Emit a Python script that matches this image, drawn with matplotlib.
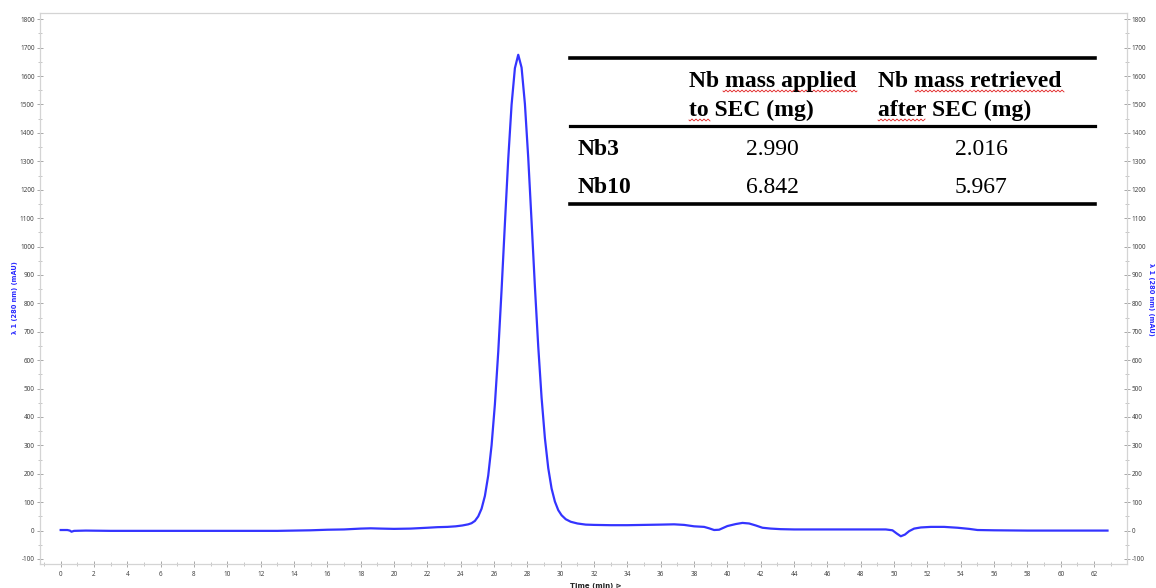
import numpy as np
import matplotlib.pyplot as plt
from matplotlib.lines import Line2D
from matplotlib.ticker import MultipleLocator

plt.rcParams['axes.unicode_minus'] = False

# ================== data ==================
time_min = [0.0, 0.4, 0.55, 0.65, 0.8, 1.5, 3, 5, 7, 9, 11, 13, 14, 15, 16, 17, 18,
            18.6, 19.2, 20, 21, 22, 22.6, 23.2, 23.7, 24.1, 24.45, 24.65, 24.85,
            25.05, 25.25, 25.45, 25.65, 25.85, 26.05, 26.25, 26.45, 26.65, 26.85,
            27.05, 27.25, 27.45, 27.65, 27.85, 28.05, 28.25, 28.45, 28.65, 28.85,
            29.05, 29.25, 29.45, 29.65, 29.85, 30.05, 30.3, 30.6, 31.0, 31.5, 32,
            33, 34, 35, 36, 36.8, 37.4, 38.0, 38.6, 38.9, 39.2, 39.5, 40.0, 40.5,
            40.9, 41.3, 41.7, 42.1, 42.6, 43.2, 44, 46, 48, 49.5, 49.9, 50.15, 50.4,
            50.65, 50.9, 51.2, 51.6, 52.2, 53, 53.8, 54.5, 55, 56, 58, 60, 62, 62.8]
abs_mau = [2, 2, 0, -4, -1, 0, -1, -1, -1, -1, -1, -1, 0, 1, 3, 4, 7,
           8, 7, 6, 7, 10, 12, 13, 15, 18, 22, 26, 34,
           50, 77, 122, 194, 300, 445, 629, 847, 1081, 1308,
           1499, 1628, 1675, 1630, 1502, 1312, 1088, 858, 648, 468,
           325, 220, 148, 102, 72, 54, 40, 31, 25, 21, 20,
           19, 19, 20, 21, 22, 20, 15, 13, 8, 2, 3, 16, 23,
           27, 25, 18, 10, 7, 5, 4, 4, 4, 4, 1, -10, -20,
           -14, -2, 7, 11, 13, 13, 10, 6, 2, 1, 0, 0, 0, 0]

col_headers = [["Nb mass applied", "to SEC (mg)"], ["Nb mass retrieved", "after SEC (mg)"]]
row_labels = ["Nb3", "Nb10"]
applied_mg = ["2.990", "6.842"]
retrieved_mg = ["2.016", "5.967"]

W, H = 1156, 588
def fx(x): return x / W
def fy(y): return 1 - y / H

# ================== figure ==================
fig = plt.figure(figsize=(W / 100, H / 100), dpi=100)
ax = fig.add_axes([fx(39.5), fy(564.3), (1127 - 39.5) / W, (564.3 - 13.3) / H])

ax.plot(time_min, abs_mau, color='#3434ff', lw=1.6, solid_joinstyle='round')
ax.set_xlim(-1.27, 63.97)
ax.set_ylim(-118.7, 1821)

ax2 = ax.twinx()
ax2.set_ylim(ax.get_ylim())

for a in (ax, ax2):
    for s in a.spines.values():
        s.set_color('#d4d4d4')
        s.set_linewidth(0.8)
    a.yaxis.set_major_locator(MultipleLocator(100))
    a.yaxis.set_minor_locator(MultipleLocator(50))
    a.tick_params(axis='both', which='major', direction='inout', length=4, width=0.6,
                  color='#9a9a9a', labelsize=4.6, labelcolor='#444444', pad=1.5)
    a.tick_params(axis='both', which='minor', direction='inout', length=3, width=0.5,
                  color='#b0b0b0')
    for lab in a.get_yticklabels():
        lab.set_family('Noto Sans')

ax.xaxis.set_major_locator(MultipleLocator(2))
ax.xaxis.set_minor_locator(MultipleLocator(1))
ax.tick_params(axis='x', which='major', pad=2.5)
for lab in ax.get_xticklabels():
    lab.set_family('Noto Sans')

# axis titles
ylab = "λ 1 (280 nm) (mAU)"
fig.text(fx(15), fy(298), ylab, rotation=90, ha='center', va='center',
         fontsize=4.8, fontweight='bold', color='#2a2aff')
fig.text(fx(1150.5), fy(299), ylab, rotation=-90, ha='center', va='center',
         fontsize=4.8, fontweight='bold', color='#2a2aff')
fig.text(fx(570), fy(586), "Time (min) ⊳", ha='left', va='center',
         fontsize=5, fontweight='bold', color='#222222')

# ================== table ==================
serif = 'Liberation Serif'
tx0, tx1 = 570, 1095
for yy, lw in [(57.5, 2.6), (126.5, 2.3), (204, 2.6)]:
    fig.add_artist(Line2D([fx(tx0), fx(tx1)], [fy(yy), fy(yy)], color='black', lw=lw))

header_left = [689, 878]
for xl, lines in zip(header_left, col_headers):
    for yb, t in zip([87, 116], lines):
        fig.text(fx(xl), fy(yb), t, family=serif, fontweight='bold', fontsize=17,
                 ha='left', va='baseline', color='black')

col_centers = [772, 981]
for yb, lab, v1, v2 in zip([155, 193], row_labels, applied_mg, retrieved_mg):
    fig.text(fx(578), fy(yb), lab, family=serif, fontweight='bold', fontsize=17,
             ha='left', va='baseline', color='black')
    fig.text(fx(col_centers[0]), fy(yb), v1, family=serif, fontsize=17,
             ha='center', va='baseline', color='black')
    fig.text(fx(col_centers[1]), fy(yb), v2, family=serif, fontsize=17,
             ha='center', va='baseline', color='black')

# red spell-check squiggles under some header words
for x0, x1, yy in [(723, 857, 91), (689, 710, 120), (915, 1064, 91), (878, 925, 120)]:
    xs = np.arange(x0, x1 + 0.5, 0.5)
    ys = yy + 0.9 * np.sin(2 * np.pi * (xs - x0) / 4.0)
    fig.add_artist(Line2D(fx(xs), fy(ys), color='#e02020', lw=0.6))

fig.savefig('out.png', dpi=100)
